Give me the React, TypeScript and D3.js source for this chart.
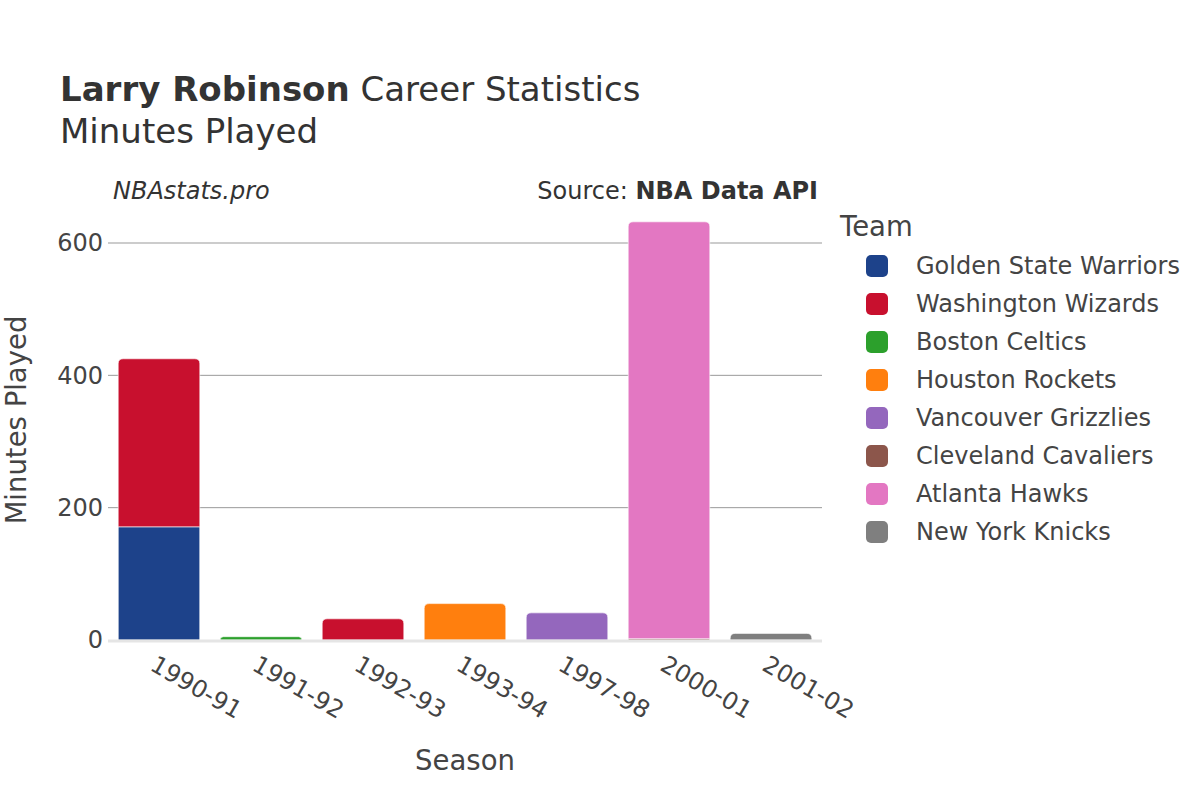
import React from 'react';
import * as d3 from 'd3';

const seasons = ['1990-91', '1991-92', '1992-93', '1993-94', '1997-98', '2000-01', '2001-02'];
const teams = [
  'Golden State Warriors',
  'Washington Wizards',
  'Boston Celtics',
  'Houston Rockets',
  'Vancouver Grizzlies',
  'Cleveland Cavaliers',
  'Atlanta Hawks',
  'New York Knicks',
];
const teamColors = ['#1d428a', '#c8102e', '#2ca02c', '#ff7f0e', '#9467bd', '#8c564b', '#e377c2', '#7f7f7f'];

// minutes per team, one entry per season (same order as seasons)
const gswMinutes = [171, 0, 0, 0, 0, 0, 0];
const wasMinutes = [254, 0, 32, 0, 0, 0, 0];
const bosMinutes = [0, 5, 0, 0, 0, 0, 0];
const houMinutes = [0, 0, 0, 55, 0, 0, 0];
const vanMinutes = [0, 0, 0, 0, 41, 0, 0];
const cleMinutes = [0, 0, 0, 0, 0, 2, 0];
const atlMinutes = [0, 0, 0, 0, 0, 630, 0];
const nykMinutes = [0, 0, 0, 0, 0, 0, 10];
const yTicks = [0, 200, 400, 600];

const series = [gswMinutes, wasMinutes, bosMinutes, houMinutes, vanMinutes, cleMinutes, atlMinutes, nykMinutes];

const FONT = '"DejaVu Sans", Verdana, sans-serif';

const plot = { left: 108, right: 822, top: 215, bottom: 640 };

function roundTopPath(x: number, y: number, w: number, h: number, r: number) {
  const rr = Math.min(r, h, w / 2);
  return `M${x},${y + h}V${y + rr}Q${x},${y} ${x + rr},${y}H${x + w - rr}Q${x + w},${y} ${x + w},${y + rr}V${y + h}Z`;
}

export default function App() {
  const x = d3.scaleBand<string>().domain(seasons).range([plot.left, plot.right]).paddingInner(0.2).paddingOuter(0.1);
  const y = d3.scaleLinear().domain([0, 600]).range([plot.bottom, 243]);

  const rows = seasons.map((s, i) => {
    const row: any = { season: s };
    teams.forEach((t, j) => (row[t] = series[j][i]));
    return row;
  });
  const stacked = d3.stack<any>().keys(teams)(rows);

  // top-most non-empty team for each season (gets rounded corners)
  const topTeam = seasons.map((_, i) => {
    let k = -1;
    teams.forEach((_, j) => {
      if (series[j][i] > 0) k = j;
    });
    return k;
  });

  return (
    <svg width={1200} height={800} style={{ display: 'block', position: 'absolute', left: 0, top: 0, background: '#fff' }} fontFamily={FONT}>
      <text x={60} y={101} fontSize={34} fill="#333">
        <tspan fontWeight="bold">Larry Robinson</tspan>
        <tspan> Career Statistics</tspan>
      </text>
      <text x={60} y={143} fontSize={34} fill="#333">Minutes Played</text>

      <text x={113} y={199} fontSize={24} fontStyle="italic" fill="#333">NBAstats.pro</text>
      <text x={818} y={199} fontSize={24} fill="#333" textAnchor="end">
        <tspan>Source: </tspan>
        <tspan fontWeight="bold">NBA Data API</tspan>
      </text>

      {/* grid */}
      {yTicks.filter(t => t > 0).map(t => (
        <line key={t} x1={plot.left} x2={plot.right} y1={y(t)} y2={y(t)} stroke="#999" strokeWidth={1} />
      ))}
      {yTicks.map(t => (
        <text key={t} x={103} y={y(t)} dy="0.35em" textAnchor="end" fontSize={24} fill="#444">{t}</text>
      ))}

      {/* bars */}
      {stacked.map((layer, j) =>
        layer.map((d, i) => {
          const h = y(d[0]) - y(d[1]);
          if (h <= 0) return null;
          const bx = x(seasons[i])!;
          const bw = x.bandwidth();
          const by = y(d[1]);
          return topTeam[i] === j ? (
            <path key={`${j}-${i}`} d={roundTopPath(bx, by, bw, h, 5)} fill={teamColors[j]} stroke="#fff" strokeWidth={0.6} />
          ) : (
            <rect key={`${j}-${i}`} x={bx} y={by} width={bw} height={h} fill={teamColors[j]} stroke="#fff" strokeWidth={0.6} />
          );
        })
      )}

      <line x1={plot.left} x2={plot.right} y1={y(0) + 1} y2={y(0) + 1} stroke="#e5e5e5" strokeWidth={3} />

      {/* x tick labels */}
      {seasons.map(s => {
        const cx = x(s)! + x.bandwidth() / 2;
        return (
          <text key={s} transform={`translate(${cx - 6},${662}) rotate(30)`} fontSize={24} fill="#444" dy="0.35em">
            {s}
          </text>
        );
      })}

      <text x={465} y={770} fontSize={27.5} fill="#444" textAnchor="middle">Season</text>
      <text transform={`translate(26,420) rotate(-90)`} fontSize={27.5} fill="#444" textAnchor="middle">Minutes Played</text>

      {/* legend */}
      <text x={840} y={236} fontSize={27.5} fill="#444">Team</text>
      {teams.map((t, j) => {
        const cy = 266 + j * 38;
        return (
          <g key={t}>
            <rect x={866} y={cy - 11} width={22} height={22} rx={5} fill={teamColors[j]} />
            <text x={916} y={cy} dy="0.35em" fontSize={24} fill="#444">{t}</text>
          </g>
        );
      })}
    </svg>
  );
}
